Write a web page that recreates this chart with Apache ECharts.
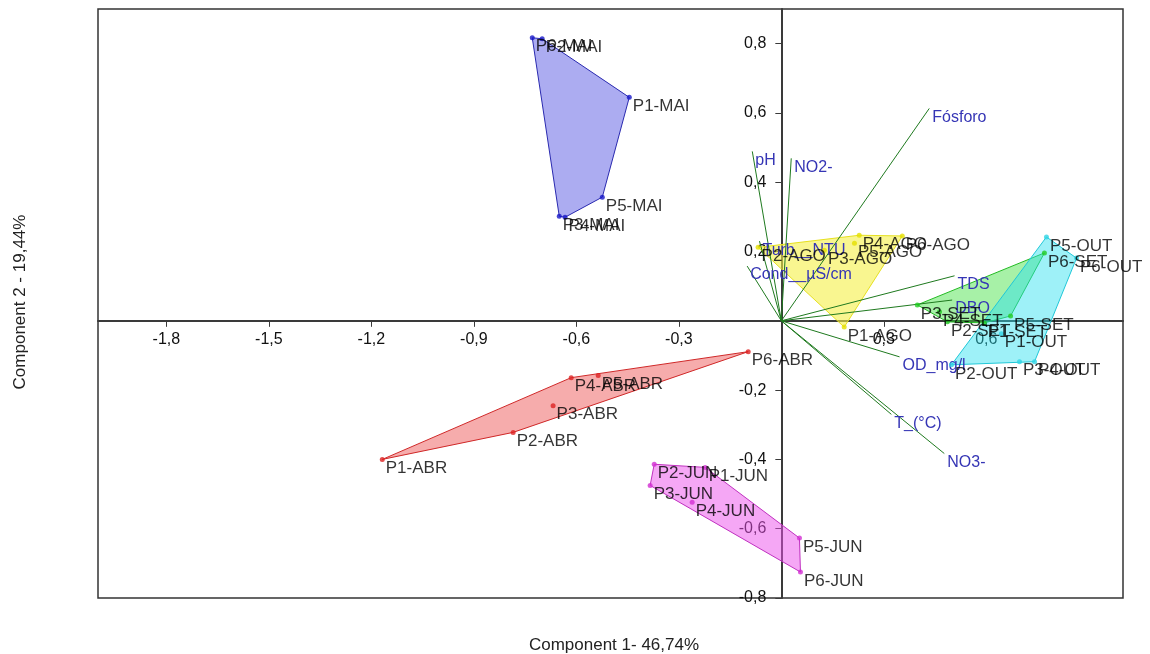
<!DOCTYPE html>
<html>
<head>
<meta charset="utf-8">
<script src="https://cdn.jsdelivr.net/npm/echarts@6/dist/echarts.min.js"></script>
<style>
  html, body { margin: 0; padding: 0; background: #fff; }
  #chart { width: 1150px; height: 654px; }
</style>
</head>
<body>
<div id="chart"></div>
<script>
// sample scores, one small array per campaign (P1..P6)
const pointNames = ['P1', 'P2', 'P3', 'P4', 'P5', 'P6'];

const abrX = [-1.168, -0.785, -0.668, -0.615, -0.536, -0.097];
const abrY = [-0.400, -0.322, -0.245, -0.164, -0.158, -0.089];

const maiX = [-0.445, -0.700, -0.650, -0.633, -0.524, -0.729];
const maiY = [0.645, 0.814, 0.302, 0.299, 0.357, 0.817];

const junX = [-0.223, -0.372, -0.384, -0.261, 0.053, 0.056];
const junY = [-0.423, -0.414, -0.475, -0.524, -0.627, -0.725];

const agoX = [0.184, -0.068, 0.126, 0.228, 0.214, 0.354];
const agoY = [-0.018, 0.212, 0.204, 0.247, 0.224, 0.245];

const setX = [0.594, 0.486, 0.398, 0.463, 0.671, 0.770];
const setY = [-0.006, -0.003, 0.046, 0.026, 0.014, 0.196];

const outX = [0.644, 0.498, 0.697, 0.741, 0.776, 0.864];
const outY = [-0.037, -0.127, -0.118, -0.118, 0.242, 0.181];

// variable loadings
const varNames = ['Fósforo', 'pH', 'NO2-', 'Turb__NTU', 'Cond__µS/cm', 'TDS', 'DBO', 'OD_mg/l', 'T_(°C)', 'NO3-'];
const varX = [0.433, -0.085, 0.029, -0.064, -0.100, 0.507, 0.500, 0.346, 0.322, 0.477];
const varY = [0.613, 0.489, 0.469, 0.230, 0.158, 0.130, 0.060, -0.104, -0.270, -0.383];

// tick labels
const xTicks = [-1.8, -1.5, -1.2, -0.9, -0.6, -0.3, 0.3, 0.6];
const yTicks = [-0.8, -0.6, -0.4, -0.2, 0.2, 0.4, 0.6, 0.8];

const groups = [
  { tag: 'ABR', xs: abrX, ys: abrY, dot: '#dd2222', line: '#d02828', fill: 'rgba(235,70,70,0.45)' },
  { tag: 'MAI', xs: maiX, ys: maiY, dot: '#1818c8', line: '#2a2ab0', fill: 'rgba(90,90,228,0.5)' },
  { tag: 'JUN', xs: junX, ys: junY, dot: '#d22ed2', line: '#c030c0', fill: 'rgba(235,80,235,0.5)' },
  { tag: 'AGO', xs: agoX, ys: agoY, dot: '#e5e000', line: '#e6e020', fill: 'rgba(245,240,70,0.6)' },
  { tag: 'SET', xs: setX, ys: setY, dot: '#22cc22', line: '#22bb22', fill: 'rgba(60,225,60,0.45)' },
  { tag: 'OUT', xs: outX, ys: outY, dot: '#30d5e5', line: '#20c8d8', fill: 'rgba(40,225,240,0.45)' }
];

const FONT = 'Liberation Sans, Arial, sans-serif';

// convex hull (monotone chain)
function convexHull(pts) {
  const p = pts.slice().sort((a, b) => a[0] - b[0] || a[1] - b[1]);
  const cross = (o, a, b) => (a[0] - o[0]) * (b[1] - o[1]) - (a[1] - o[1]) * (b[0] - o[0]);
  const lower = [], upper = [];
  for (const q of p) {
    while (lower.length >= 2 && cross(lower[lower.length - 2], lower[lower.length - 1], q) <= 0) lower.pop();
    lower.push(q);
  }
  for (let i = p.length - 1; i >= 0; i--) {
    const q = p[i];
    while (upper.length >= 2 && cross(upper[upper.length - 2], upper[upper.length - 1], q) <= 0) upper.pop();
    upper.push(q);
  }
  upper.pop(); lower.pop();
  return lower.concat(upper);
}

const fmt = v => (Math.round(v * 10) / 10).toFixed(1).replace('.', ',');

const series = [];

groups.forEach(g => {
  const pts = g.xs.map((x, i) => [x, g.ys[i]]);
  const hull = convexHull(pts);
  series.push({
    type: 'custom',
    silent: true,
    z: 1,
    data: hull,
    renderItem: function (params, api) {
      if (params.dataIndex !== 0) return;
      return {
        type: 'polygon',
        shape: { points: hull.map(p => api.coord(p)) },
        style: { fill: g.fill, stroke: g.line, lineWidth: 1 }
      };
    }
  });
  series.push({
    type: 'scatter',
    z: 4,
    symbolSize: 5,
    itemStyle: { color: g.dot },
    data: pts.map((p, i) => ({ name: pointNames[i] + '-' + g.tag, value: p })),
    label: {
      show: true,
      position: 'right',
      distance: 1,
      offset: [0, 9],
      formatter: '{b}',
      color: '#000',
      fontSize: 17,
      fontFamily: FONT
    }
  });
});

// loading vectors
series.push({
  type: 'custom',
  silent: true,
  z: 3,
  data: varX.map((x, i) => [x, varY[i]]),
  renderItem: function (params, api) {
    const o = api.coord([0, 0]);
    const e = api.coord([api.value(0), api.value(1)]);
    return {
      type: 'group',
      children: [
        { type: 'line', shape: { x1: o[0], y1: o[1], x2: e[0], y2: e[1] },
          style: { stroke: '#1f7a1f', lineWidth: 1 } },
        { type: 'text', z2: 10,
          style: { text: varNames[params.dataIndex], x: e[0] + 3, y: e[1] + 9,
                   fill: '#3535b5', fontSize: 16, fontFamily: FONT,
                   align: 'left', verticalAlign: 'middle' } }
      ]
    };
  }
});

const axisLineStyle = { color: '#3a3a3a', width: 2 };

const chart = echarts.init(document.getElementById('chart'), null, { renderer: 'canvas' });

chart.setOption({
  animation: false,
  backgroundColor: '#fff',
  grid: {
    left: 98, right: 27, top: 9, bottom: 56,
    show: true, borderColor: '#333', borderWidth: 1.5,
    outerBoundsMode: 'none'
  },
  xAxis: {
    type: 'value', min: -2, max: 1, position: 'bottom',
    splitLine: { show: false },
    axisLine: { onZero: false, lineStyle: axisLineStyle },
    axisTick: { customValues: xTicks, length: 6, lineStyle: { color: '#3a3a3a' } },
    axisLabel: { customValues: xTicks, formatter: fmt, margin: 11,
                 fontSize: 16, color: '#111', fontFamily: FONT }
  },
  yAxis: {
    type: 'value', min: -0.8, max: 0.9, position: 'left',
    splitLine: { show: false },
    axisLine: { onZero: false, lineStyle: axisLineStyle },
    axisTick: { customValues: yTicks, length: 6, lineStyle: { color: '#3a3a3a' } },
    axisLabel: { customValues: yTicks, formatter: fmt, margin: 15,
                 fontSize: 16, color: '#111', fontFamily: FONT }
  },
  graphic: [
    { type: 'text', x: 614, y: 645,
      style: { text: 'Component 1- 46,74%', fill: '#222', fontSize: 17, fontFamily: FONT,
               align: 'center', verticalAlign: 'middle' } },
    { type: 'text', x: 20, y: 302, rotation: Math.PI / 2,
      style: { text: 'Component 2 - 19,44%', fill: '#222', fontSize: 17, fontFamily: FONT,
               align: 'center', verticalAlign: 'middle' } }
  ],
  series: series
});

// move both axes (line, ticks, labels) onto the zero crossing
const zero = chart.convertToPixel({ gridIndex: 0 }, [0, 0]);
const corner = chart.convertToPixel({ gridIndex: 0 }, [-2, -0.8]);
chart.setOption({
  xAxis: { offset: zero[1] - corner[1] },
  yAxis: { offset: corner[0] - zero[0] }
});
</script>
</body>
</html>
